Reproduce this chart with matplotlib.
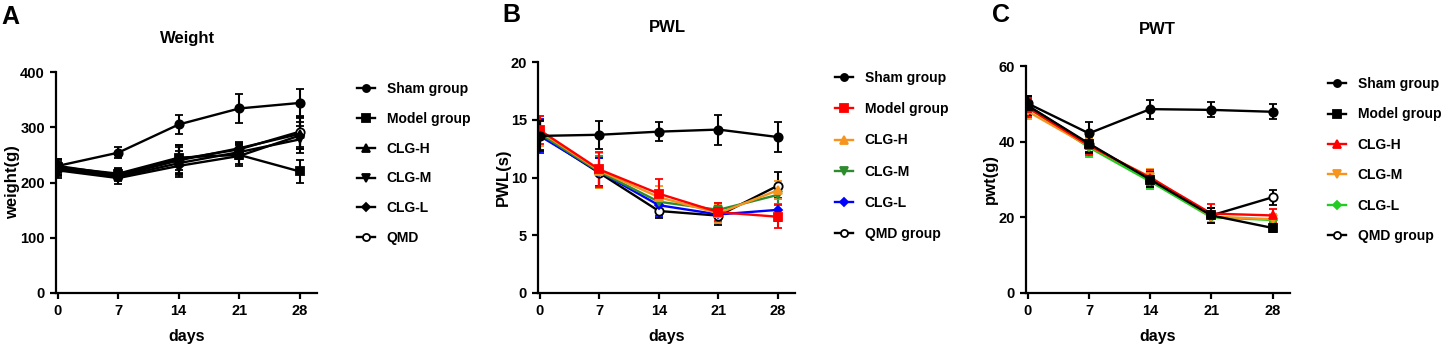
import matplotlib
matplotlib.use("Agg")
import matplotlib.pyplot as plt

plt.rcParams["font.family"] = ["Liberation Sans", "DejaVu Sans"]
plt.rcParams["font.weight"] = "bold"

days = [0, 7, 14, 21, 28]

# panel A: weight (g)
weight_sham = [230, 254, 305, 334, 344]
weight_sham_err = [10, 10, 18, 27, 25]
weight_model = [228, 216, 245, 250, 220]
weight_model_err = [14, 10, 22, 20, 20]
weight_clg_h = [226, 212, 240, 262, 288]
weight_clg_h_err = [12, 8, 25, 12, 28]
weight_clg_m = [224, 210, 235, 255, 278]
weight_clg_m_err = [12, 8, 22, 12, 25]
weight_clg_l = [222, 208, 230, 248, 285]
weight_clg_l_err = [14, 10, 20, 15, 25]
weight_qmd = [230, 214, 242, 260, 292]
weight_qmd_err = [12, 10, 25, 12, 28]

# panel B: PWL (s)
pwl_sham = [13.6, 13.7, 13.97, 14.15, 13.5]
pwl_sham_err = [1.3, 1.2, 0.8, 1.3, 1.3]
pwl_model = [14.1, 10.7, 8.6, 7.0, 6.6]
pwl_model_err = [1.2, 1.5, 1.3, 0.8, 1.0]
pwl_clg_h = [14.0, 10.6, 8.3, 6.9, 8.9]
pwl_clg_h_err = [1.3, 1.5, 1.0, 0.8, 0.8]
pwl_clg_m = [13.8, 10.5, 7.9, 7.2, 8.5]
pwl_clg_m_err = [1.5, 1.4, 0.9, 0.6, 0.8]
pwl_clg_l = [13.6, 10.5, 7.6, 6.8, 7.2]
pwl_clg_l_err = [1.5, 1.2, 0.9, 0.7, 1.0]
pwl_qmd = [13.7, 10.4, 7.1, 6.7, 9.3]
pwl_qmd_err = [1.3, 1.3, 0.6, 0.8, 1.2]

# panel C: PWT (g)
pwt_sham = [50.1, 42.2, 48.6, 48.4, 47.9]
pwt_sham_err = [2.0, 3.0, 2.5, 2.0, 2.0]
pwt_model = [49.5, 39.5, 30.0, 20.5, 17.2]
pwt_model_err = [2.5, 2.5, 2.0, 2.0, 1.0]
pwt_clg_h = [49.0, 39.0, 30.5, 21.0, 20.5]
pwt_clg_h_err = [2.5, 2.5, 2.0, 2.5, 1.8]
pwt_clg_m = [48.0, 38.8, 30.7, 20.2, 19.5]
pwt_clg_m_err = [2.0, 2.0, 2.0, 1.5, 1.5]
pwt_clg_l = [49.0, 38.5, 29.5, 20.0, 19.3]
pwt_clg_l_err = [2.0, 2.5, 2.0, 1.5, 1.2]
pwt_qmd = [49.5, 39.3, 30.0, 20.5, 25.3]
pwt_qmd_err = [2.0, 2.0, 2.0, 2.0, 2.0]

markers = ["o", "s", "^", "v", "D", "o"]
group_names_a = ["Sham group", "Model group", "CLG-H", "CLG-M", "CLG-L", "QMD"]
group_names_bc = ["Sham group", "Model group", "CLG-H", "CLG-M", "CLG-L", "QMD group"]
colors_a = ["black"] * 6
colors_b = ["black", "#ff0000", "#f7941d", "#2e8b2e", "#0000ff", "black"]
colors_c = ["black", "black", "#ff0000", "#f7941d", "#22cc22", "black"]

panels = [
    dict(letter="A", title="Weight", ylabel="weight(g)", ymax=400, yticks=[0, 100, 200, 300, 400],
         means=[weight_sham, weight_model, weight_clg_h, weight_clg_m, weight_clg_l, weight_qmd],
         errs=[weight_sham_err, weight_model_err, weight_clg_h_err, weight_clg_m_err, weight_clg_l_err, weight_qmd_err],
         colors=colors_a, labels=group_names_a, spacing=1.14,
         rect=[56, 72, 317, 293], leg=(357, 82), letter_xy=(1, 17), title_xy=(188, 38)),
    dict(letter="B", title="PWL", ylabel="PWL(s)", ymax=20, yticks=[0, 5, 10, 15, 20],
         means=[pwl_sham, pwl_model, pwl_clg_h, pwl_clg_m, pwl_clg_l, pwl_qmd],
         errs=[pwl_sham_err, pwl_model_err, pwl_clg_h_err, pwl_clg_m_err, pwl_clg_l_err, pwl_qmd_err],
         colors=colors_b, labels=group_names_bc, spacing=1.24,
         rect=[538, 62, 795, 293], leg=(835, 71), letter_xy=(502, 15), title_xy=(667, 28)),
    dict(letter="C", title="PWT", ylabel="pwt(g)", ymax=60, yticks=[0, 20, 40, 60],
         means=[pwt_sham, pwt_model, pwt_clg_h, pwt_clg_m, pwt_clg_l, pwt_qmd],
         errs=[pwt_sham_err, pwt_model_err, pwt_clg_h_err, pwt_clg_m_err, pwt_clg_l_err, pwt_qmd_err],
         colors=colors_c, labels=group_names_bc, spacing=1.18,
         rect=[1026, 66, 1290, 293], leg=(1328, 77), letter_xy=(992, 15), title_xy=(1157, 30)),
]

W, H = 1445, 351
fig = plt.figure(figsize=(W / 100, H / 100), dpi=100)

for p in panels:
    x0, y0, x1, y1 = p["rect"]
    ax = fig.add_axes([x0 / W, 1 - y1 / H, (x1 - x0) / W, (y1 - y0) / H])
    handles = {}
    # draw QMD first so the model/sham lines sit on top
    for i in [5, 4, 3, 2, 1, 0]:
        c = p["colors"][i]
        face = "white" if i == 5 else c
        ms = 4.5 if markers[i] == "D" else 6
        h = ax.errorbar(days, p["means"][i], yerr=p["errs"][i], color=c, ecolor=c,
                        marker=markers[i], markersize=ms, markerfacecolor=face,
                        markeredgecolor=c, markeredgewidth=1.3, linewidth=1.7,
                        elinewidth=1.5, capsize=3, capthick=1.5, label=p["labels"][i])
        handles[i] = h.lines[0]

    ax.set_xlim(-0.2, 30)
    ax.set_ylim(0, p["ymax"])
    ax.set_xticks(days)
    ax.set_yticks(p["yticks"])
    for s in ["top", "right"]:
        ax.spines[s].set_visible(False)
    for s in ["left", "bottom"]:
        ax.spines[s].set_linewidth(1.6)
    ax.tick_params(width=1.6, length=4, labelsize=10.5, pad=4)
    for t in ax.get_xticklabels() + ax.get_yticklabels():
        t.set_fontweight("bold")
    ax.set_xlabel("days", fontsize=11.5, fontweight="bold", labelpad=8)
    ax.set_ylabel(p["ylabel"], fontsize=12, fontweight="bold", labelpad=0)

    lx, ly = p["leg"]
    ax.legend(handles=[handles[i] for i in range(6)], labels=p["labels"],
              loc="upper left", bbox_to_anchor=(lx / W, 1 - ly / H),
              bbox_transform=fig.transFigure, frameon=False, fontsize=10,
              handlelength=1.3, handletextpad=0.85, labelspacing=p["spacing"],
              borderaxespad=0, borderpad=0, markerscale=0.85)

    fig.text(p["letter_xy"][0] / W, 1 - p["letter_xy"][1] / H, p["letter"],
             fontsize=18, fontweight="bold", ha="left", va="center")
    fig.text(p["title_xy"][0] / W, 1 - p["title_xy"][1] / H, p["title"],
             fontsize=12, fontweight="bold", ha="center", va="center")

fig.savefig("out.png", dpi=100)
